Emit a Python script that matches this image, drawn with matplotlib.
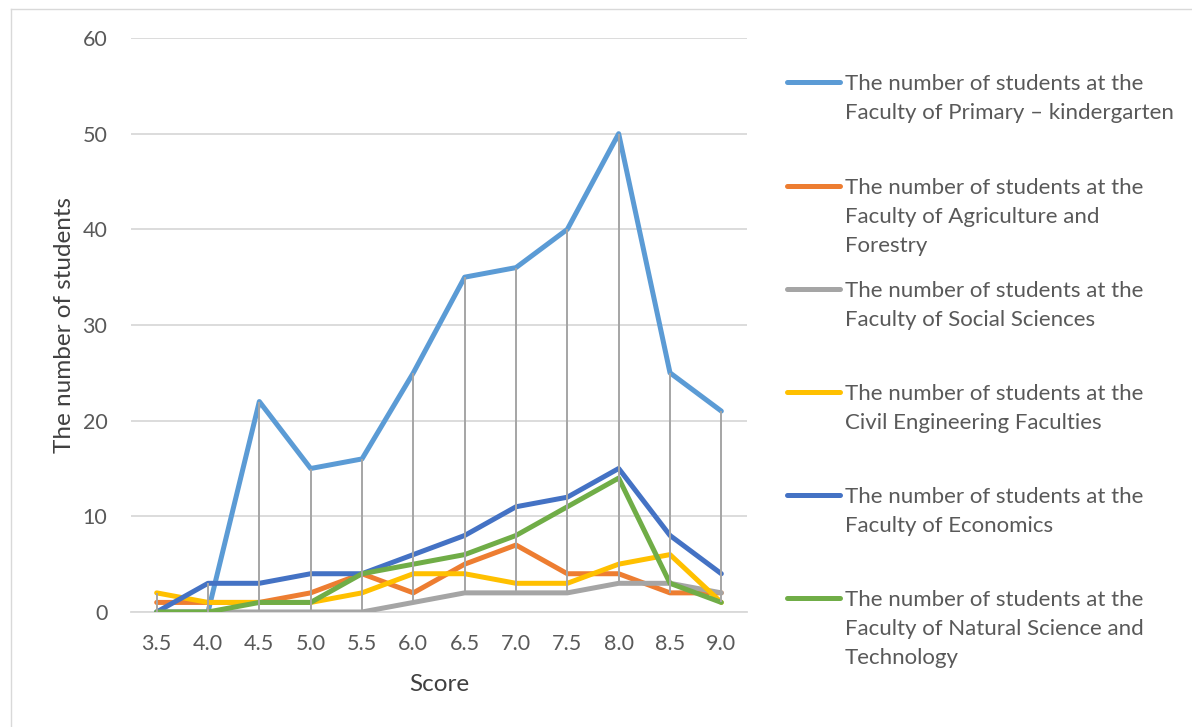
import matplotlib
matplotlib.use('Agg')
import matplotlib.pyplot as plt
from matplotlib.lines import Line2D
import numpy as np

plt.rcParams['font.family'] = ['Lato', 'DejaVu Sans']

# Scores on the x axis
scores = ['3.5', '4.0', '4.5', '5.0', '5.5', '6.0', '6.5', '7.0', '7.5', '8.0', '8.5', '9.0']

# Number of students per faculty
primary = [0, 0, 22, 15, 16, 25, 35, 36, 40, 50, 25, 21]
agriculture = [1, 1, 1, 2, 4, 2, 5, 7, 4, 4, 2, 2]
social = [0, 0, 0, 0, 0, 1, 2, 2, 2, 3, 3, 2]
civil = [2, 1, 1, 1, 2, 4, 4, 3, 3, 5, 6, 1]
economics = [0, 3, 3, 4, 4, 6, 8, 11, 12, 15, 8, 4]
natural = [0, 0, 1, 1, 4, 5, 6, 8, 11, 14, 3, 1]

labels = [
    'The number of students at the\nFaculty of Primary \u2013 kindergarten',
    'The number of students at the\nFaculty of Agriculture and\nForestry',
    'The number of students at the\nFaculty of Social Sciences',
    'The number of students at the\nCivil Engineering Faculties',
    'The number of students at the\nFaculty of Economics',
    'The number of students at the\nFaculty of Natural Science and\nTechnology',
]
colors = ['#5B9BD5', '#ED7D31', '#A5A5A5', '#FFC000', '#4472C4', '#70AD47']
series = [primary, agriculture, social, civil, economics, natural]

fig = plt.figure(figsize=(11.92, 7.27), dpi=100)
ax = fig.add_axes([131 / 1192, 1 - 612 / 727, (747 - 131) / 1192, (612 - 38) / 727])

x = np.arange(len(scores))
for vals, c in zip(series, colors):
    ax.plot(x, vals, color=c, lw=3.6, solid_capstyle='round', solid_joinstyle='round', zorder=3)

# high-low lines
data = np.array(series)
ax.vlines(x, data.min(axis=0), data.max(axis=0), color='#A5A5A5', lw=1.4, zorder=4)

ax.set_xlim(-0.5, len(scores) - 0.5)
ax.set_ylim(0, 60)
ax.set_yticks(range(0, 61, 10))
ax.set_xticks(x)
ax.set_xticklabels(scores)
ax.yaxis.grid(True, color='#D9D9D9', lw=1.3)
ax.set_axisbelow(True)
for s in ['top', 'right', 'left']:
    ax.spines[s].set_visible(False)
ax.spines['bottom'].set_color('#D9D9D9')
ax.spines['bottom'].set_linewidth(1.3)
ax.tick_params(length=0, colors='#595959', labelsize=15.5)
ax.tick_params(axis='y', pad=17)
ax.tick_params(axis='x', pad=15.5)
ax.set_xlabel('Score', fontsize=17.5, color='#404040', labelpad=15)
ax.set_ylabel('The number of students', fontsize=17.5, color='#404040', labelpad=5.5)

# legend drawn by hand on the right
tops = [82, 186, 289, 392, 495, 598]
for lab, c, yp in zip(labels, colors, tops):
    fy = 1 - yp / 727
    fig.add_artist(Line2D([787 / 1192, 840 / 1192], [fy, fy], color=c, lw=3.6,
                          solid_capstyle='round'))
    fig.text(845 / 1192, 1 - (yp - 8) / 727, lab, fontsize=16, color='#595959', va='top',
             ha='left', linespacing=1.55, transform=fig.transFigure)

# chart border
fig.add_artist(Line2D([11 / 1192, 1], [1 - 9 / 727, 1 - 9 / 727], color='#D9D9D9', lw=1))
fig.add_artist(Line2D([11 / 1192, 11 / 1192], [0, 1 - 9 / 727], color='#D9D9D9', lw=1))

fig.savefig('out.png', dpi=100)
